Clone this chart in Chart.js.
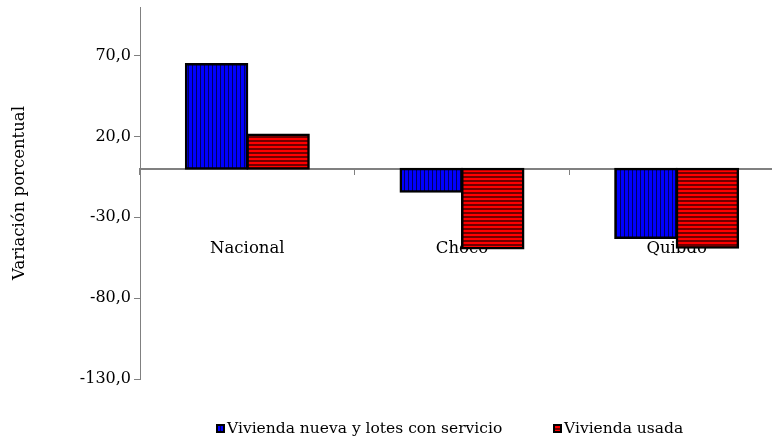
<!DOCTYPE html>
<html>
<head>
<meta charset="utf-8">
<script src="https://cdn.jsdelivr.net/npm/chart.js@4.4.0/dist/chart.umd.min.js"></script>
<style>
  html, body { margin: 0; padding: 0; background: #fff; overflow: hidden; }
  #wrap { width: 772px; height: 441px; overflow: hidden; }
  #wrap canvas { display: block; }
</style>
</head>
<body>
<div id="wrap"><canvas id="chart" width="800" height="441"></canvas></div>
<script>
// Data
const categories = ['Nacional', 'Chocó', 'Quibdó'];
const nuevaValues = [64.7, -14.2, -42.8];
const usadaValues = [21.2, -49.3, -48.8];
const yTicks = [-130, -80, -30, 20, 70];
const seriesNames = ['Vivienda nueva y lotes con servicio', 'Vivienda usada'];

const FONT = 'DejaVu Serif';
const canvas = document.getElementById('chart');
const ctx = canvas.getContext('2d');

// Striped fills like the original
function stripes(bg, fg, vertical, band) {
    const c = document.createElement('canvas');
    c.width = 4;
    c.height = 4;
    const g = c.getContext('2d');
    g.fillStyle = bg;
    g.fillRect(0, 0, 4, 4);
    g.fillStyle = fg;
    if (vertical) g.fillRect(0, 0, band, 4);
    else g.fillRect(0, 0, 4, band);
    return ctx.createPattern(c, 'repeat');
}
const bluePattern = stripes('#0000ff', '#000060', true, 1);
const redPattern = stripes('#ff0000', '#700000', false, 2);

// Legend drawn under the plot
const legendPlugin = {
    id: 'bottomLegend',
    afterDraw(chart) {
        const c = chart.ctx;
        const xs = [216, 553];
        const y = 424;
        c.save();
        chart.data.datasets.forEach((ds, i) => {
            c.fillStyle = ds.backgroundColor;
            c.fillRect(xs[i], y, 9, 9);
            c.strokeStyle = '#000';
            c.lineWidth = 2;
            c.strokeRect(xs[i] + 1, y + 1, 7, 7);
            c.fillStyle = '#000';
            c.font = '15.5px "' + FONT + '"';
            c.textBaseline = 'middle';
            c.textAlign = 'left';
            c.fillText(ds.label, xs[i] + 11, y + 5);
        });
        c.restore();
    }
};

new Chart(ctx, {
    type: 'bar',
    data: {
        labels: categories,
        datasets: [{
            label: seriesNames[0],
            data: nuevaValues,
            backgroundColor: bluePattern,
            borderColor: '#000',
            borderWidth: 2.5,
            borderSkipped: false,
            inflateAmount: 1
        }, {
            label: seriesNames[1],
            data: usadaValues,
            backgroundColor: redPattern,
            borderColor: '#000',
            borderWidth: 2.5,
            borderSkipped: false,
            inflateAmount: 1
        }]
    },
    options: {
        responsive: false,
        animation: false,
        devicePixelRatio: 1,
        categoryPercentage: 0.573,
        barPercentage: 1.0,
        layout: {
            padding: { top: 7, right: 16, bottom: 62, left: 0 }
        },
        plugins: {
            legend: { display: false },
            tooltip: { enabled: false }
        },
        scales: {
            x: {
                position: { y: 0 },
                offset: true,
                z: 1,
                border: { color: '#808080', width: 2 },
                grid: {
                    display: true,
                    drawOnChartArea: false,
                    drawTicks: true,
                    tickLength: 5,
                    color: '#808080',
                    offset: true
                },
                ticks: {
                    padding: 65,
                    color: '#000',
                    font: { family: FONT, size: 16.5 }
                }
            },
            y: {
                min: -130,
                max: 100,
                afterBuildTicks: s => {
                    s.ticks = yTicks.map(v => ({ value: v }));
                },
                afterFit: s => {
                    s.width = 140;
                    s.paddingTop = 0;
                    s.paddingBottom = 0;
                },
                border: { color: '#808080', width: 1 },
                grid: {
                    display: true,
                    drawOnChartArea: false,
                    drawTicks: true,
                    tickLength: 6,
                    color: '#808080'
                },
                ticks: {
                    padding: 3,
                    color: '#000',
                    font: { family: FONT, size: 16 },
                    callback: v => v.toFixed(1).replace('.', ',')
                },
                title: {
                    display: true,
                    text: 'Variación porcentual',
                    color: '#000',
                    font: { family: FONT, size: 16.5 },
                    padding: { top: 10, bottom: 0 }
                }
            }
        }
    },
    plugins: [legendPlugin]
});
</script>
</body>
</html>
